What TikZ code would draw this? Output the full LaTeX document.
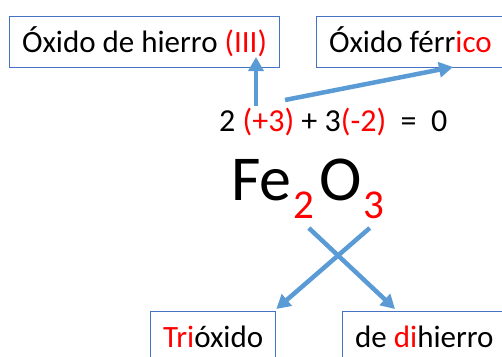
\documentclass[tikz,border=0pt]{standalone}
\usepackage{fontspec}
\setmainfont{Carlito}
\usetikzlibrary{positioning, arrows.meta}
\definecolor{boxblue}{HTML}{4472C4}
\definecolor{arrowblue}{HTML}{5B9BD5}
\definecolor{numred}{HTML}{FF0000}

\begin{document}
\begin{tikzpicture}[
  x=1pt, y=-1pt,
  namebox/.style={rectangle, draw=boxblue, line width=1.3pt, anchor=north west,
                  inner xsep=12.5pt, inner ysep=0pt, minimum height=51pt,
                  text height=28pt, text depth=7pt,
                  font=\fontsize{31}{31}\selectfont},
  eqtext/.style={inner sep=0pt, anchor=base west,
                 font=\fontsize{32}{32}\selectfont},
  bigtext/.style={inner sep=0pt, anchor=base west,
                  font=\fontsize{64}{64}\selectfont},
  subtext/.style={inner sep=0pt, anchor=base west, text=numred,
                  font=\fontsize{41}{41}\selectfont},
  arr/.style={draw=arrowblue, line width=4.5pt,
              -{Triangle[width=15pt,length=14pt]}}
]
  \clip (0,0) rectangle (502,356);

  % name boxes
  \node[namebox] (oxHierro)  at (9,15.7)  {Óxido de hierro \textcolor{numred}{(III)}};
  \node[namebox] (oxFerrico) at (316,15.7) {Óxido férr\textcolor{numred}{ico}};
  \node[namebox] (trioxido)  at (150,311) {\textcolor{numred}{Tri}óxido};
  \node[namebox] (dihierro)  at (342,311) {de \textcolor{numred}{di}hierro};

  % oxidation numbers
  \node[eqtext] (eq) at (219,131)
    {2 \textcolor{numred}{(+3)} + 3\textcolor{numred}{(-2)}\ \ =\ \ 0};

  % formula
  \node[bigtext] (fe) at (231,200) {Fe};
  \node[subtext] (sub2) at ([xshift=2pt,yshift=-18pt]fe.base east) {2};
  \node[bigtext] (oxy) at ([xshift=4pt]sub2.base east |- fe.base) {O};
  \node[subtext] (sub3) at ([xshift=2pt,yshift=-18pt]oxy.base east) {3};

  % arrows
  \draw[arr] ([xshift=37pt,yshift=25pt]eq.base west)
          -- ([xshift=247pt,yshift=11pt]oxHierro.south west);
  \draw[arr] ([xshift=66pt,yshift=31pt]eq.base west)
          -- ([xshift=137pt,yshift=1pt]oxFerrico.south west);
  \draw[arr] ([xshift=4.5pt,yshift=-10pt]sub2.base)
          -- ([xshift=53pt,yshift=2pt]dihierro.north west);
  \draw[arr] ([xshift=-4.5pt,yshift=-10pt]sub3.base)
          -- ([yshift=2pt]trioxido.north east);
\end{tikzpicture}
\end{document}
